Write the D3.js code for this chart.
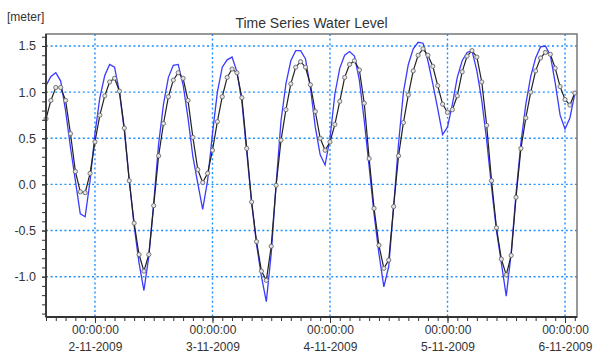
<!DOCTYPE html>
<html>
<head>
<meta charset="utf-8">
<script src="https://cdn.jsdelivr.net/npm/d3@7"></script>
<style>
  body { margin: 0; background: #fff; }
  text { font-family: "Liberation Sans", Arial, sans-serif; fill: #333; }
</style>
</head>
<body>
<div id="chart"></div>
<script>
'use strict'

// hourly samples, 1-11-2009 14:00 -> 6-11-2009 02:00
const startTime = new Date(2009, 10, 1, 14),
      endTime = new Date(2009, 10, 6, 2, 27);

// blue line (no markers)
const levelA = [
  1.07, 1.17, 1.21, 1.12, 0.80, 0.40, 0.04, -0.32, -0.35, 0.04,
  0.55, 0.94, 1.18, 1.30, 1.27, 1.00, 0.58, 0.05, -0.45, -0.85,
  -1.15, -0.78, -0.20, 0.44, 0.87, 1.16, 1.29, 1.30, 1.08, 0.72,
  0.30, 0.01, -0.27, 0.04, 0.55, 1.00, 1.27, 1.35, 1.38, 1.22,
  0.90, 0.35, -0.20, -0.65, -1.00, -1.27, -0.75, 0.00, 0.69, 1.09,
  1.34, 1.45, 1.45, 1.36, 1.05, 0.62, 0.32, 0.21, 0.50, 0.98,
  1.26, 1.40, 1.44, 1.39, 1.13, 0.69, 0.19, -0.32, -0.75, -1.11,
  -0.89, -0.24, 0.44, 1.00, 1.30, 1.47, 1.54, 1.53, 1.34, 1.09,
  0.82, 0.54, 0.62, 0.87, 1.16, 1.34, 1.43, 1.45, 1.23, 0.91,
  0.48, -0.03, -0.50, -0.85, -1.21, -0.75, -0.10, 0.45, 0.87, 1.17,
  1.37, 1.49, 1.50, 1.40, 1.10, 0.75, 0.60, 0.72, 0.98
];

// black line with markers
const levelB = [
  0.71, 0.91, 1.05, 1.05, 0.91, 0.55, 0.14, -0.08, -0.09, 0.12,
  0.46, 0.75, 0.96, 1.11, 1.15, 1.01, 0.61, 0.04, -0.42, -0.76,
  -0.94, -0.76, -0.23, 0.31, 0.66, 0.95, 1.13, 1.21, 1.15, 0.91,
  0.51, 0.16, 0.02, 0.12, 0.37, 0.68, 0.95, 1.16, 1.25, 1.21,
  0.94, 0.39, -0.19, -0.62, -0.94, -1.04, -0.67, -0.01, 0.48, 0.81,
  1.09, 1.27, 1.33, 1.27, 1.08, 0.79, 0.50, 0.37, 0.46, 0.65,
  0.90, 1.16, 1.30, 1.34, 1.24, 0.88, 0.28, -0.26, -0.66, -0.91,
  -0.82, -0.24, 0.31, 0.67, 0.97, 1.23, 1.40, 1.47, 1.40, 1.28,
  1.07, 0.87, 0.78, 0.81, 0.96, 1.22, 1.39, 1.45, 1.38, 1.11,
  0.64, 0.04, -0.47, -0.81, -0.98, -0.77, -0.14, 0.39, 0.72, 1.00,
  1.23, 1.37, 1.43, 1.41, 1.26, 1.06, 0.92, 0.86, 0.99
];

const yTicks = [-1.0, -0.5, 0.0, 0.5, 1.0, 1.5];
const title = 'Time Series Water Level',
      unit = '[meter]';

let times = d3.timeHour.range(startTime, d3.timeHour.offset(startTime, levelB.length));

let width = 595, height = 362;
let margin = {top: 34, right: 18, bottom: 45, left: 46},
    w = width - margin.left - margin.right,
    h = height - margin.top - margin.bottom;

let svg = d3.select('#chart')
  .append('svg')
  .attr('width', width)
  .attr('height', height);

let x = d3.scaleTime().domain([startTime, endTime]).range([0, w]),
    y = d3.scaleLinear().domain([-1.437, 1.63]).range([h, 0]);

let g = svg.append('g')
  .attr('transform', 'translate(' + margin.left + ',' + margin.top + ')');

// titles
svg.append('text')
  .attr('x', margin.left + w / 2)
  .attr('y', 28)
  .attr('text-anchor', 'middle')
  .style('font-size', '14px')
  .text(title);

svg.append('text')
  .attr('x', 7)
  .attr('y', 21)
  .style('font-size', '12px')
  .text(unit);

// dotted grid
let days = d3.timeDay.range(d3.timeDay.ceil(startTime), endTime);

g.append('g').selectAll('line')
  .data(days)
  .join('line')
    .attr('x1', d => x(d)).attr('x2', d => x(d))
    .attr('y1', 0).attr('y2', h);

g.append('g').selectAll('line')
  .data(yTicks)
  .join('line')
    .attr('x1', 0).attr('x2', w)
    .attr('y1', d => y(d)).attr('y2', d => y(d));

g.selectAll('g line')
  .attr('stroke', '#1e8fff')
  .attr('stroke-width', 1.4)
  .attr('stroke-dasharray', '2,2.6');

// series
let line = d3.line()
  .x((d, i) => x(times[i]))
  .y(d => y(d));

g.append('path')
  .datum(levelA)
  .attr('fill', 'none')
  .attr('stroke', '#3b3bff')
  .attr('stroke-width', 1.3)
  .attr('d', line);

g.append('path')
  .datum(levelB)
  .attr('fill', 'none')
  .attr('stroke', '#222')
  .attr('stroke-width', 1.2)
  .attr('d', line);

g.append('g').selectAll('circle')
  .data(levelB)
  .join('circle')
    .attr('cx', (d, i) => x(times[i]))
    .attr('cy', d => y(d))
    .attr('r', 2.1)
    .attr('fill', '#e4e4e4')
    .attr('stroke', '#6a6a6a')
    .attr('stroke-width', 0.9);

// frame
g.append('rect')
  .attr('width', w)
  .attr('height', h)
  .attr('fill', 'none')
  .attr('stroke', '#777')
  .attr('stroke-width', 1.5);

// y axis: labelled every 0.5, minor every 0.1
let yMinor = d3.range(-14, 17).map(d => d / 10);
g.append('g')
  .call(d3.axisLeft(y).tickValues(yMinor).tickSize(4).tickFormat(''))
  .call(a => a.select('.domain').remove());
g.append('g')
  .call(d3.axisLeft(y).tickValues(yTicks).tickSize(4).tickPadding(6)
    .tickFormat(d => d.toFixed(1)))
  .call(a => a.select('.domain').remove())
  .selectAll('text').style('font-size', '12.5px');

// x axis: labelled at midnight, minor every 2 hours
let xAxisG = g.append('g').attr('transform', 'translate(0,' + h + ')');
xAxisG.append('g')
  .call(d3.axisBottom(x).ticks(d3.timeHour.every(2)).tickSize(4).tickFormat(''))
  .call(a => a.select('.domain').remove());
let xMajor = xAxisG.append('g')
  .call(d3.axisBottom(x).tickValues(days).tickSize(6).tickFormat(''))
  .call(a => a.select('.domain').remove());

xMajor.selectAll('.tick').each(function(d) {
  let t = d3.select(this).append('text')
    .attr('text-anchor', 'middle')
    .style('font-size', '12px');
  t.append('tspan').attr('x', 0).attr('y', 17).text(d3.timeFormat('%H:%M:%S')(d));
  t.append('tspan').attr('x', 0).attr('y', 34).text(d3.timeFormat('%-d-%-m-%Y')(d));
});

g.selectAll('.tick line').attr('stroke', '#333');

// left and bottom axis lines
g.append('line').attr('x1', 0).attr('x2', 0).attr('y1', 0).attr('y2', h);
g.append('line').attr('x1', 0).attr('x2', w).attr('y1', h).attr('y2', h);
g.selectAll(':scope > line')
  .attr('stroke', '#333')
  .attr('stroke-width', 1.8);
</script>
</body>
</html>
